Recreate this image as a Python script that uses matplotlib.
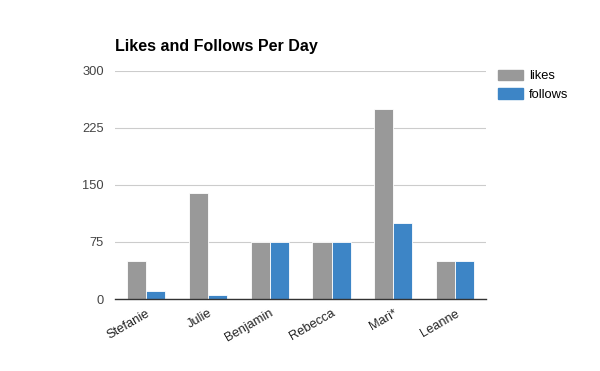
import matplotlib
matplotlib.use('Agg')
import matplotlib.pyplot as plt
import numpy as np
from matplotlib.patches import Patch

names = ['Stefanie', 'Julie', 'Benjamin', 'Rebecca', 'Mari*', 'Leanne']
likes = [50, 140, 75, 75, 250, 50]
follows = [10, 5, 75, 75, 100, 50]
yticks = [0, 75, 150, 225, 300]

plt.rcParams['font.family'] = ['Liberation Sans', 'DejaVu Sans']

fig = plt.figure(figsize=(6, 3.71), dpi=100)
ax = fig.add_axes([0.192, 0.194, 0.618, 0.615])

x = np.arange(len(names))
w = 0.31
ax.bar(x - w / 2, likes, w, color='#999999', edgecolor='white', linewidth=0.6, zorder=3)
ax.bar(x + w / 2, follows, w, color='#3d85c6', edgecolor='white', linewidth=0.6, zorder=3)

ax.set_xlim(-0.5, len(names) - 0.5)
ax.set_ylim(0, 300)
ax.set_yticks(yticks)
ax.set_yticklabels([str(v) for v in yticks], fontsize=9.3, color='#444444')
ax.set_xticks(x)
ax.set_xticklabels(names, rotation=30, ha='right', rotation_mode='anchor',
                   fontsize=9.3, color='#222222')
ax.tick_params(length=0, pad=8)
ax.tick_params(axis='x', pad=6)
ax.yaxis.grid(True, color='#cccccc', linewidth=0.8, zorder=0)
for s in ['top', 'right', 'left']:
    ax.spines[s].set_visible(False)
ax.spines['bottom'].set_color('#333333')
ax.spines['bottom'].set_linewidth(1.0)
ax.spines['bottom'].set_zorder(4)

fig.text(0.192, 0.876, 'Likes and Follows Per Day', fontsize=11.5,
         fontweight='bold', color='black', va='center')

handles = [Patch(color='#999999', label='likes'), Patch(color='#3d85c6', label='follows')]
fig.legend(handles=handles, loc='upper left', bbox_to_anchor=(0.82, 0.83),
           frameon=False, fontsize=9.3, handlelength=1.9, handleheight=0.9,
           handletextpad=0.45, labelspacing=0.45, borderpad=0)

fig.savefig('out.png', dpi=100)
